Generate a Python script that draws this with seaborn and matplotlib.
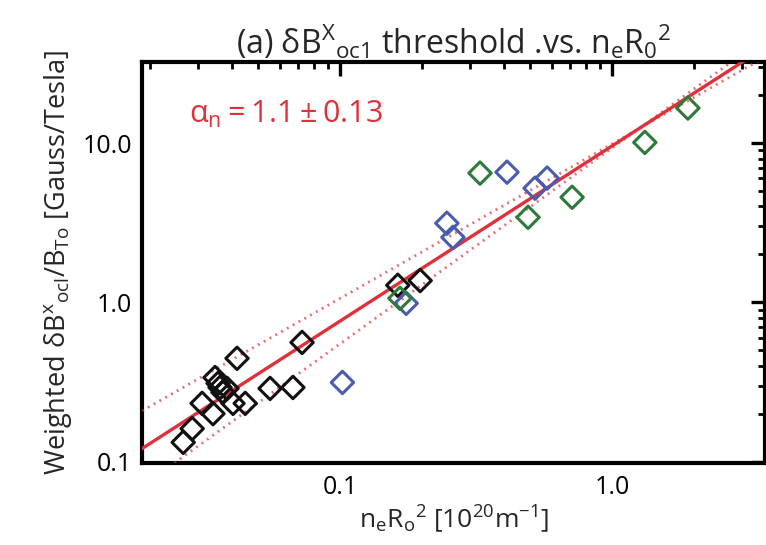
import numpy as np
import pandas as pd
import matplotlib
matplotlib.use("Agg")
import matplotlib.pyplot as plt
import matplotlib.ticker as mticker
import seaborn as sns

# data (n_e R_0^2 [1e20 m^-1], weighted dB/B_T0 [Gauss/Tesla])
black_x = [0.0265, 0.0286, 0.0311, 0.0341, 0.0347, 0.0356, 0.0362, 0.0371, 0.0384,
           0.0404, 0.0418, 0.0448, 0.0553, 0.0671, 0.0725, 0.163, 0.197]
black_y = [0.132, 0.161, 0.232, 0.200, 0.337, 0.310, 0.292, 0.272, 0.288,
           0.232, 0.445, 0.232, 0.288, 0.292, 0.560, 1.28, 1.37]
blue_x = [0.102, 0.175, 0.247, 0.260, 0.411, 0.521, 0.577]
blue_y = [0.314, 0.986, 3.14, 2.56, 6.57, 5.21, 6.03]
green_x = [0.166, 0.327, 0.491, 0.713, 1.32, 1.90]
green_y = [1.06, 6.48, 3.42, 4.57, 10.1, 16.6]

# scaling fit: y = coef * x^alpha, alpha = 1.1 +- 0.13
fit_alpha = 1.1
fit_err = 0.13
fit_coef = 9.6
pivot_x = 1.25

x_ticks = [0.1, 1.0]
x_ticklabels = ["0.1", "1.0"]
y_ticks = [0.1, 1.0, 10.0]
y_ticklabels = ["0.1", "1.0", "10.0"]

groups = {"black": (black_x, black_y), "blue": (blue_x, blue_y), "green": (green_x, green_y)}
colors = {"black": "#111111", "blue": "#4a5bb0", "green": "#2e7a3a"}
red = "#e0303a"

rows = []
for g, (xs, ys) in groups.items():
    for xv, yv in zip(xs, ys):
        rows.append({"x": xv, "y": yv, "group": g})
df = pd.DataFrame(rows)

sns.set_style("white")
plt.rcParams["font.family"] = ["Open Sans", "DejaVu Sans"]
plt.rcParams["mathtext.fontset"] = "custom"
plt.rcParams["mathtext.rm"] = "Open Sans"
plt.rcParams["mathtext.it"] = "Open Sans"

fig = plt.figure(figsize=(7.66, 5.45), dpi=100)
ax = fig.add_axes([0.1854, 0.1505, 0.8133, 0.7357])
ax.set_xscale("log")
ax.set_yscale("log")
xlim = (0.0187, 3.65)
ylim = (0.098, 32.3)

# fit line and error band
xf = np.array(xlim)
fit_df = pd.DataFrame({"x": xf, "y": fit_coef * xf ** fit_alpha})
sns.lineplot(data=fit_df, x="x", y="y", ax=ax, color=red, lw=2.4, zorder=3)
y_piv = fit_coef * pivot_x ** fit_alpha
for a in (fit_alpha - fit_err, fit_alpha + fit_err):
    band = pd.DataFrame({"x": xf, "y": y_piv * (xf / pivot_x) ** a})
    sns.lineplot(data=band, x="x", y="y", ax=ax, color=red, lw=2.0,
                 linestyle=(0, (0.7, 1.7)), alpha=0.7, zorder=3)

for g, sub in df.groupby("group"):
    sns.scatterplot(data=sub, x="x", y="y", ax=ax, marker="D", s=130,
                    color=colors[g], facecolor="none", edgecolor=colors[g],
                    linewidth=2.2, zorder=4)

ax.set_xlim(*xlim)
ax.set_ylim(*ylim)
ax.xaxis.set_major_locator(mticker.FixedLocator(x_ticks))
ax.xaxis.set_major_formatter(mticker.FixedFormatter(x_ticklabels))
ax.yaxis.set_major_locator(mticker.FixedLocator(y_ticks))
ax.yaxis.set_major_formatter(mticker.FixedFormatter(y_ticklabels))
ax.xaxis.set_minor_locator(mticker.LogLocator(subs=np.arange(2, 10)))
ax.yaxis.set_minor_locator(mticker.LogLocator(subs=np.arange(2, 10)))
ax.xaxis.set_minor_formatter(mticker.NullFormatter())
ax.yaxis.set_minor_formatter(mticker.NullFormatter())
ax.tick_params(which="both", direction="in", top=True, right=True, colors="black")
ax.tick_params(which="major", length=10, width=2.4, labelsize=18, pad=9)
ax.tick_params(which="minor", length=5, width=2.0)
ax.tick_params(axis="y", which="major", pad=7)
for sp in ax.spines.values():
    sp.set_linewidth(3.0)
    sp.set_color("black")

ax.set_xlabel(r"$\mathrm{n_eR_o{}^{2}}$ [10$^{\mathrm{20}}$m$^{\mathrm{-1}}$]", fontsize=19, labelpad=2)
ax.set_ylabel(r"Weighted $\mathrm{\delta B^{x}{}_{ocl}/B_{To}}$ [Gauss/Tesla]", fontsize=19.5, labelpad=6)
ax.set_title(r"(a) $\mathrm{\delta B^{X}{}_{oc1}}$ threshold .vs. $\mathrm{n_eR_0{}^{2}}$",
             fontsize=23, pad=6)
ax.text(0.075, 0.87, r"$\mathrm{\alpha_n = 1.1 \pm 0.13}$", transform=ax.transAxes,
        color=red, fontsize=22, ha="left", va="center")

fig.savefig("out.png", dpi=100)
plt.close(fig)
